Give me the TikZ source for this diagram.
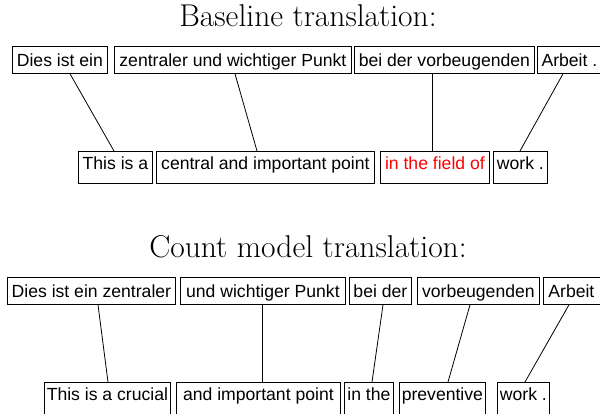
\documentclass[tikz,border=0pt]{standalone}
\usepackage{fontspec}
\newfontfamily\chunkfont{Liberation Sans}
\begin{document}
\begin{tikzpicture}[x=1pt,y=-1pt,
  chunk/.style={draw, line width=0.8pt, inner sep=0pt, anchor=north west,
    font=\chunkfont\fontsize{17.6}{20}\selectfont,
    text height=12.6pt, text depth=0pt, minimum height=27pt},
  lowchunk/.style={chunk, text depth=8pt, minimum height=32pt},
  lastchunk/.style={chunk, text depth=12pt, minimum height=36pt},
  link/.style={line width=0.8pt},
  title/.style={font=\fontsize{31.5}{36}\selectfont, anchor=base}]
\useasboundingbox (0,0) rectangle (600,414);
\clip (0,0) rectangle (600,414);

% ---- baseline system ----
\node[title] (t1) at (308,27) {Baseline translation:};

\node[chunk, minimum width=95pt]  (d1) at (12,46)  {Dies ist ein};
\node[chunk, minimum width=237pt] (d2) at (114,46) {zentraler und wichtiger Punkt};
\node[chunk, minimum width=180pt] (d3) at (354,46) {bei der vorbeugenden};
\node[chunk, minimum width=70pt]  (d4) at (537,46) {\hspace*{-6pt}Arbeit .};

\node[lowchunk, minimum width=74pt]  (e1) at (78,151)  {This is a};
\node[lowchunk, minimum width=218pt] (e2) at (156,151) {central and important point};
\node[lowchunk, minimum width=109pt, text=red] (e3) at (380,151) {in the field of};
\node[lowchunk, minimum width=54pt]  (e4) at (493,151) {work .};

\draw[link] ([xshift=58pt]d1.south west)  -- ([xshift=36pt]e1.north west);
\draw[link] ([xshift=121pt]d2.south west) -- ([xshift=101pt]e2.north west);
\draw[link] ([xshift=78pt]d3.south west)  -- ([xshift=52pt]e3.north west);
\draw[link] ([xshift=26pt]d4.south west)  -- ([xshift=27pt]e4.north west);

% ---- count model system ----
\node[title] (t2) at (308,258) {Count model translation:};

\node[chunk, minimum width=168pt] (f1) at (7,277)   {Dies ist ein zentraler};
\node[chunk, minimum width=165pt] (f2) at (180,277) {und wichtiger Punkt};
\node[chunk, minimum width=62pt]  (f3) at (349,277) {bei der};
\node[chunk, minimum width=122pt] (f4) at (417,277) {vorbeugenden};
\node[chunk, minimum width=70pt]  (f5) at (543,277) {\hspace*{-14pt}Arbeit};

\node[lastchunk, minimum width=126pt] (g1) at (44,382)  {This is a crucial};
\node[lastchunk, minimum width=164pt] (g2) at (176,382) {and important point};
\node[lastchunk, minimum width=49pt]  (g3) at (344,382) {in the};
\node[lastchunk, minimum width=86pt]  (g4) at (399,382) {preventive};
\node[lastchunk, minimum width=52pt]  (g5) at (497,382) {work .};

\draw[link] ([xshift=91pt]f1.south west) -- ([xshift=64pt]g1.north west);
\draw[link] ([xshift=82pt]f2.south west) -- ([xshift=86pt]g2.north west);
\draw[link] ([xshift=34pt]f3.south west) -- ([xshift=28pt]g3.north west);
\draw[link] ([xshift=53pt]f4.south west) -- ([xshift=49pt]g4.north west);
\draw[link] ([xshift=26pt]f5.south west) -- ([xshift=28pt]g5.north west);
\end{tikzpicture}
\end{document}
